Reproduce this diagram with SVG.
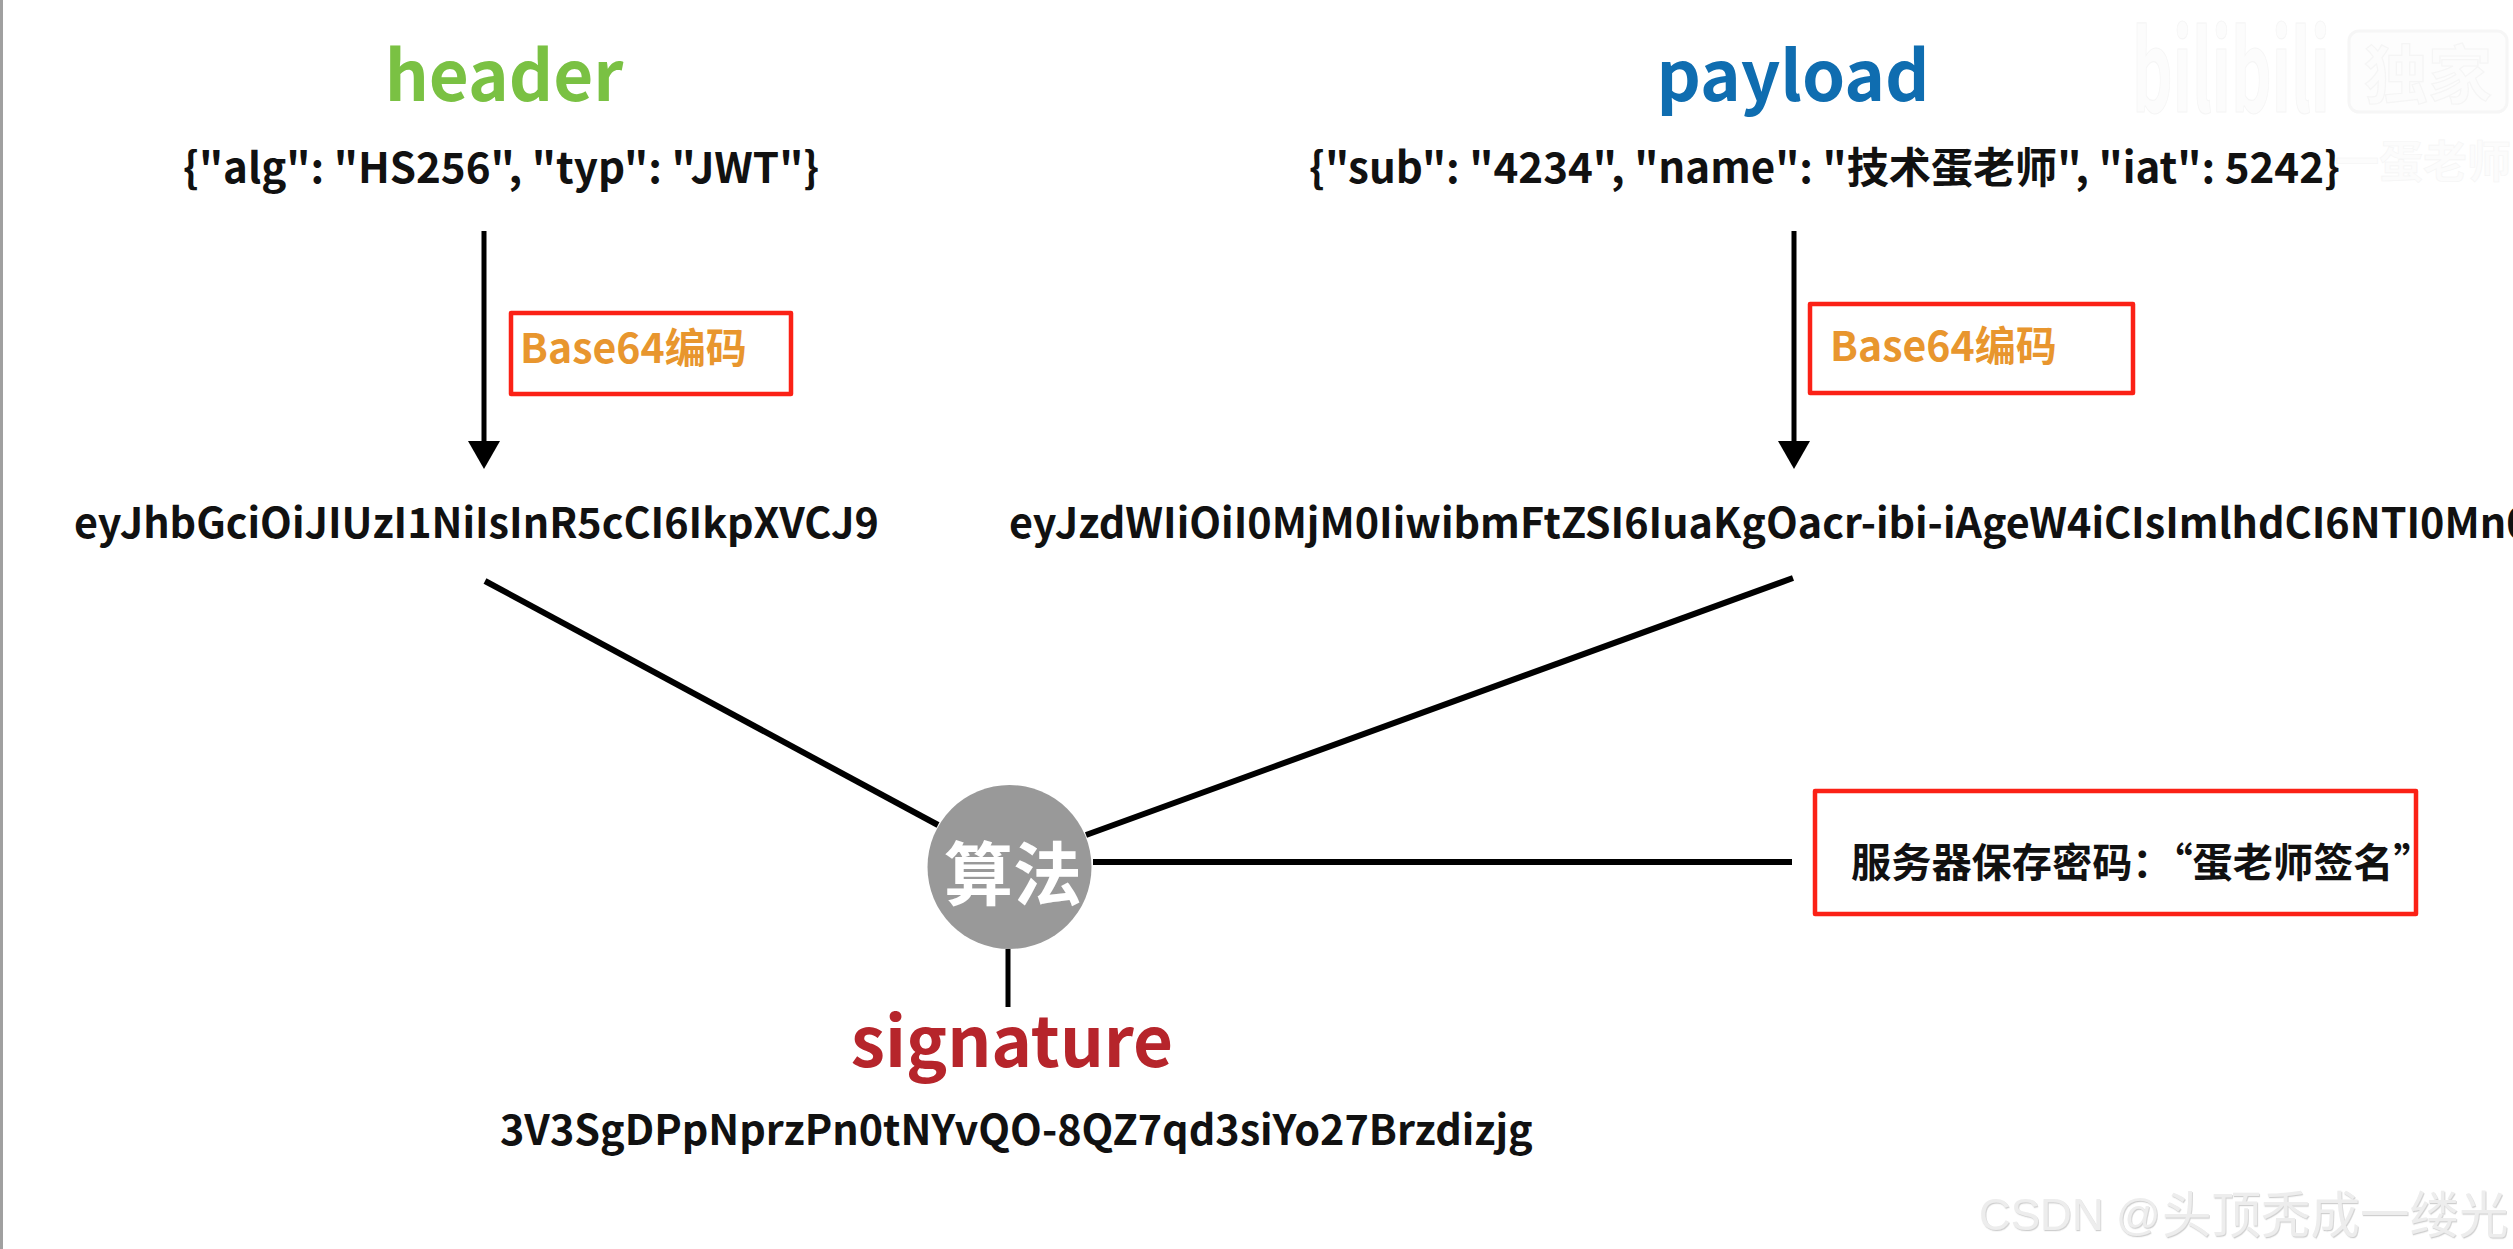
<svg xmlns="http://www.w3.org/2000/svg" width="2513" height="1249" viewBox="0 0 2513 1249">
<style>
text{font-family:"Noto Sans CJK SC","Noto Sans",sans-serif;font-weight:700;fill:#111}
.title{font-size:69px;text-anchor:middle}
.code{font-size:41.3px}
.json{font-size:42.1px}
.enc{font-size:41px;fill:#e8962e}
.box{fill:none;stroke:#fb2116;stroke-width:4.5;stroke-linejoin:round}
.ln{stroke:#000;stroke-width:6;fill:none}
.ar{stroke:#000;stroke-width:5;fill:none}
.wm{fill:#fcfcfc;stroke:#f5f5f5;stroke-width:1.2}
</style>
<defs>
<marker id="ah" markerUnits="userSpaceOnUse" markerWidth="28" markerHeight="32" refX="1" refY="16" viewBox="0 0 28 32" orient="auto"><path d="M0 0L28 16L0 32Z" fill="#000"/></marker>
<filter id="emboss" x="-5%" y="-20%" width="110%" height="140%"><feDropShadow dx="0.8" dy="1.2" stdDeviation="0.4" flood-color="#cfcfcf"/></filter>
</defs>
<rect width="2513" height="1249" fill="#fff"/>
<rect id="left-edge" width="3" height="1249" fill="#a0a0a0"/>
<g id="watermark-bili"><text class="wm" x="2132" y="112" textLength="198" lengthAdjust="spacingAndGlyphs" style="font-size:112px">bilibili</text><rect x="2349" y="31" width="158" height="81" rx="10" fill="#fdfdfd" stroke="#f6f6f6" stroke-width="3"/><text class="wm" x="2364" y="98" style="font-size:64px">独家</text><text class="wm" x="2335" y="178" style="font-size:44px;stroke-width:.6">一蛋老师</text></g>
<g id="connectors">
<path class="ar" d="M484 231V442" marker-end="url(#ah)"/>
<path class="ar" d="M1794 231V442" marker-end="url(#ah)"/>
<path class="ln" d="M485 581L938 825"/>
<path class="ln" d="M1793 578L1086 835"/>
<path class="ln" d="M1093 862H1792"/>
<path class="ar" d="M1008 949V1007"/>
</g>
<g id="header"><text class="title" x="504" y="101" style="fill:#7ac143">header</text><text class="json" x="183" y="183">{"alg": "HS256", "typ": "JWT"}</text></g>
<g id="header-encoding"><rect class="box" x="511" y="313" width="280" height="81"/><text class="enc" x="520" y="363">Base64编码</text></g>
<g id="header-b64"><text class="code" x="74" y="538">eyJhbGciOiJIUzI1NiIsInR5cCI6IkpXVCJ9</text></g>
<g id="payload"><text class="title" x="1793" y="101" style="fill:#0f6db0">payload</text><text class="json" x="1309" y="183">{"sub": "4234", "name": "技术蛋老师", "iat": 5242}</text></g>
<g id="payload-encoding"><rect class="box" x="1810" y="304" width="323" height="89"/><text class="enc" x="1830" y="361">Base64编码</text></g>
<g id="payload-b64"><text class="code" x="1009" y="538">eyJzdWIiOiI0MjM0IiwibmFtZSI6IuaKgOacr-ibi-iAgeW4iCIsImlhdCI6NTI0Mn0</text></g>
<g id="algorithm"><circle cx="1009.5" cy="867" r="82" fill="#999"/><text x="1013" y="900" text-anchor="middle" style="fill:#fff;font-size:69px">算法</text></g>
<g id="secret"><rect class="box" x="1815" y="791" width="601" height="123"/><text x="1851" y="877" style="font-size:40.2px">服务器保存密码：“蛋老师签名”</text></g>
<g id="signature"><text class="title" x="1012" y="1067" style="fill:#b6252b">signature</text><text class="code" x="500" y="1145">3V3SgDPpNprzPn0tNYvQO-8QZ7qd3siYo27Brzdizjg</text></g>
<g id="watermark-csdn" filter="url(#emboss)"><text x="1979" y="1230" style="fill:#ededed;font-weight:400;font-size:44px;font-family:'Liberation Sans','Noto Sans CJK SC',sans-serif">CSDN @<tspan x="2162" y="1233" style="font-size:49.5px;font-family:'Noto Sans CJK SC',sans-serif">头顶秃成一缕光</tspan></text></g>
</svg>
